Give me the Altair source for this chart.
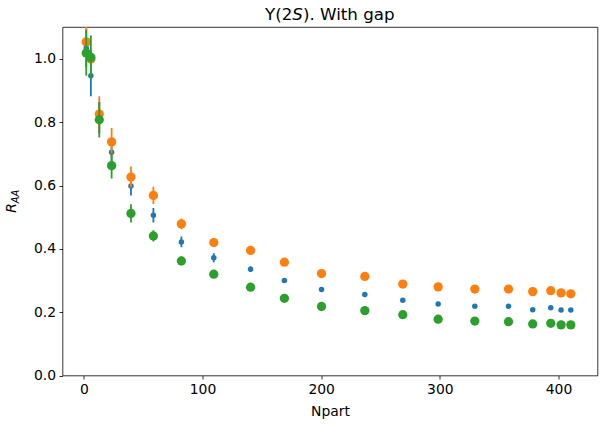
import altair as alt
import pandas as pd

# ---- data ----
npart = [2.0, 5.9, 13.0, 23.4, 39.7, 58.6, 82.2, 109.5, 140.5, 169.0,
         200.3, 236.8, 268.8, 298.6, 329.5, 357.9, 378.3, 393.5, 402.2, 410.4]

blue_raa = [1.035, 0.947, 0.815, 0.705, 0.599, 0.506, 0.422, 0.372, 0.336, 0.300,
            0.272, 0.256, 0.238, 0.226, 0.219, 0.219, 0.208, 0.214, 0.207, 0.207]
blue_err = [0.06, 0.065, 0.05, 0.04, 0.03, 0.023, 0.017, 0.014, 0.009, 0.008,
            0.007, 0.006, 0.006, 0.005, 0.005, 0.005, 0.005, 0.005, 0.005, 0.005]

orange_raa = [1.054, 1.000, 0.826, 0.738, 0.627, 0.569, 0.479, 0.420, 0.395, 0.358,
              0.322, 0.313, 0.289, 0.280, 0.273, 0.273, 0.265, 0.268, 0.261, 0.258]
orange_err = [0.06, 0.03, 0.056, 0.044, 0.033, 0.027, 0.017, 0.012, 0.010, 0.009,
              0.008, 0.008, 0.007, 0.007, 0.007, 0.007, 0.007, 0.007, 0.007, 0.007]

green_raa = [1.019, 1.005, 0.808, 0.663, 0.512, 0.441, 0.362, 0.320, 0.279, 0.244,
             0.218, 0.205, 0.192, 0.178, 0.172, 0.170, 0.163, 0.165, 0.160, 0.160]
green_err = [0.072, 0.069, 0.056, 0.041, 0.029, 0.018, 0.014, 0.012, 0.010, 0.009,
             0.008, 0.007, 0.007, 0.006, 0.006, 0.006, 0.006, 0.006, 0.006, 0.006]

x_ticks = [0, 100, 200, 300, 400]
y_ticks = [0.0, 0.2, 0.4, 0.6, 0.8, 1.0]
x_domain = [-18.0, 432.9]
y_domain = [0.0, 1.101]

title_parts = ["\u03a5(2", "S", "). With gap"]
x_title = "Npart"

FONT = "DejaVu Sans"
W, H = 535, 348.5
TFS = 16.7

xs = alt.Scale(domain=x_domain, nice=False, zero=False)
ys = alt.Scale(domain=y_domain, nice=False, zero=False)

x_axis = alt.Axis(values=x_ticks, format="d", grid=False, domain=False,
                  tickSize=3.5, tickWidth=0.8, tickColor="black",
                  labelFont=FONT, labelFontSize=13.9, labelColor="black",
                  labelPadding=3.5, title=x_title, titleFont=FONT,
                  titleFontSize=13.9, titleFontWeight="normal",
                  titleColor="black", titlePadding=8)
y_axis = alt.Axis(values=y_ticks, format=".1f", grid=False, domain=False,
                  tickSize=3.5, tickWidth=0.8, tickColor="black",
                  labelFont=FONT, labelFontSize=13.9, labelColor="black",
                  labelPadding=3.5, title="")


def series_layers(vals, errs, color, size):
    df = pd.DataFrame({"npart": npart, "raa": vals, "err": errs})
    base = alt.Chart(df).transform_calculate(
        lo="datum.raa - datum.err", hi="datum.raa + datum.err")
    bars = base.mark_rule(color=color, strokeWidth=1.8, clip=True).encode(
        x=alt.X("npart:Q", scale=xs, axis=x_axis),
        y=alt.Y("lo:Q", scale=ys, axis=y_axis),
        y2="hi:Q",
    )
    pts = base.mark_circle(color=color, size=size, opacity=1, clip=True).encode(
        x=alt.X("npart:Q", scale=xs, axis=x_axis),
        y=alt.Y("raa:Q", scale=ys, axis=y_axis),
    )
    return [bars, pts]


layers = []
layers += series_layers(blue_raa, blue_err, "#1f77b4", 30)
layers += series_layers(orange_raa, orange_err, "#ff7f0e", 86)
layers += series_layers(green_raa, green_err, "#2ca02c", 86)

# y axis label R_AA (R with subscript AA)
lab_r = alt.Chart(pd.DataFrame({"t": ["R"]})).mark_text(
    font=FONT, fontSize=13.9, fontStyle="italic", angle=270,
    align="center", baseline="alphabetic", color="black").encode(
    text="t:N", x=alt.value(-47), y=alt.value(181))
lab_aa = alt.Chart(pd.DataFrame({"t": ["AA"]})).mark_text(
    font=FONT, fontSize=9.7, fontStyle="italic", angle=270,
    align="center", baseline="alphabetic", color="black").encode(
    text="t:N", x=alt.value(-44), y=alt.value(169.5))

# chart title "Υ(2S). With gap" with an italic S, centred over the plot
total_w = 7.792 * TFS
left_w = 1.637 * TFS
s_w = 0.635 * TFS
x0 = W / 2 - total_w / 2
t1 = alt.Chart(pd.DataFrame({"t": [title_parts[0]]})).mark_text(
    font=FONT, fontSize=TFS, align="right", baseline="alphabetic",
    color="black").encode(text="t:N", x=alt.value(x0 + left_w), y=alt.value(-7))
t2 = alt.Chart(pd.DataFrame({"t": [title_parts[1]]})).mark_text(
    font=FONT, fontSize=TFS, fontStyle="italic", align="left",
    baseline="alphabetic", color="black").encode(
    text="t:N", x=alt.value(x0 + left_w), y=alt.value(-7))
t3 = alt.Chart(pd.DataFrame({"t": [title_parts[2]]})).mark_text(
    font=FONT, fontSize=TFS, align="left", baseline="alphabetic",
    color="black").encode(
    text="t:N", x=alt.value(x0 + left_w + s_w), y=alt.value(-7))

layers += [lab_r, lab_aa, t1, t2, t3]

chart = alt.layer(*layers).properties(
    width=W, height=H,
    padding={"left": 62.5, "top": 27, "right": 3, "bottom": 49},
    autosize=alt.AutoSizeParams(type="none"),
    background="white",
).configure_view(stroke="black", strokeWidth=0.8)

chart.save("out.html", embed_options={"renderer": "svg", "actions": False})
